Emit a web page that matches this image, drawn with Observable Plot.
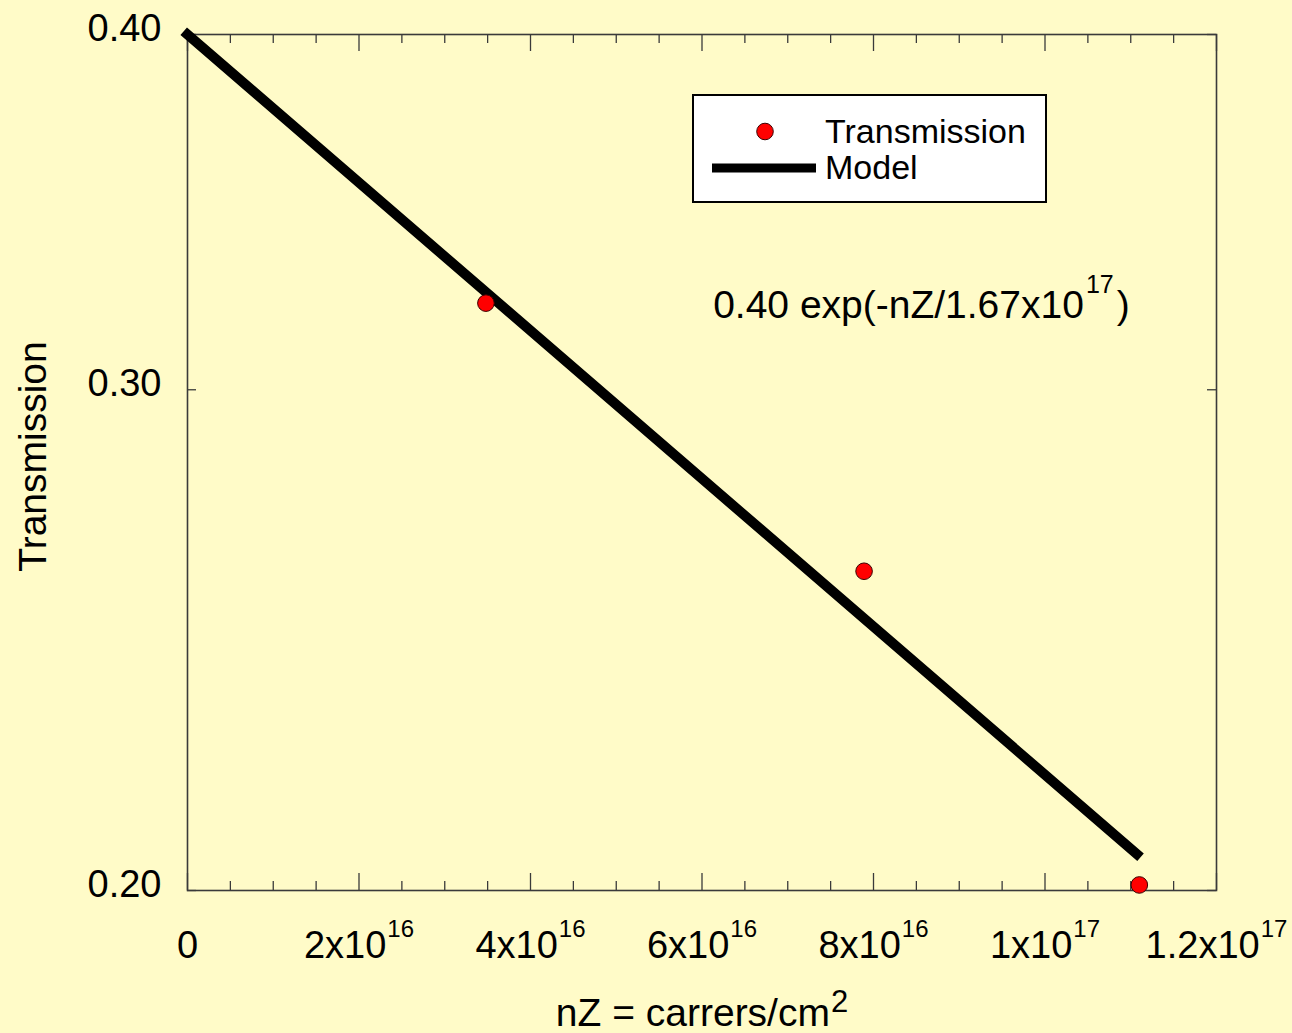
<!DOCTYPE html>
<html><head><meta charset="utf-8">
<script src="https://cdn.jsdelivr.net/npm/d3@7"></script>
<script src="https://cdn.jsdelivr.net/npm/@observablehq/plot@0.6"></script>
<style>
html,body{margin:0;padding:0;background:#fffbc8;}
#chart{width:1292px;height:1033px;}
</style></head><body><div id="chart"></div>
<script>
// ---- data ----
const nZ = [3.48e16, 7.89e16, 1.110e17];
const transmission = [0.3218, 0.2590, 0.2009];
const modelNZ = [0, 1.107e17];
const modelT = [0.400, 0.2060];
const seriesNames = ["Transmission", "Model"];
const xTicks = [0, 2e16, 4e16, 6e16, 8e16, 1e17, 1.2e17];
const xTickLabels = ["0", "2x10^{16}", "4x10^{16}", "6x10^{16}", "8x10^{16}", "1x10^{17}", "1.2x10^{17}"];
const xMinorTicks = [5e15, 1e16, 1.5e16, 2.5e16, 3e16, 3.5e16, 4.5e16, 5e16, 5.5e16, 6.5e16, 7e16, 7.5e16, 8.5e16, 9e16, 9.5e16, 1.05e17, 1.1e17, 1.15e17];
const yTicks = [0.2, 0.3, 0.4];
const yTickLabels = ["0.20", "0.30", "0.40"];
const xLabel = "nZ = carrers/cm^{2}";
const yLabel = "Transmission";
const formulaLabel = "0.40 exp(-nZ/1.67x10^{17})";
const formulaAt = [6.13e16, 0.3179];

// ---- build ----
const points = nZ.map((x, i) => ({x, y: transmission[i]}));
const model = modelNZ.map((x, i) => ({x, y: modelT[i]}));

const W = 1292, H = 1033, mL = 187, mR = 76, mT = 34, mB = 143;
const innerW = W - mL - mR, innerH = H - mT - mB;
const FONT = "'Liberation Sans', Arial, Helvetica, sans-serif";
const BG = "#fffbc8";
const AX = "#3a3a3a";

const plot = Plot.plot({
  width: W, height: H,
  marginLeft: mL, marginRight: mR, marginTop: mT, marginBottom: mB,
  style: {background: BG, fontFamily: FONT, color: "#000", overflow: "visible"},
  x: {type: "linear", domain: [0, 1.2e17]},
  y: {type: "log", domain: [0.2, 0.4]},
  marks: [
    Plot.axisX(xTicks, {tickSize: 0, tickPadding: 41, fontSize: 38, fill: "#000",
      tickFormat: d => xTickLabels[xTicks.indexOf(d)], label: null}),
    Plot.axisY(yTicks, {tickSize: 0, tickPadding: 26, fontSize: 38, fill: "#000", dy: -6,
      tickFormat: d => yTickLabels[yTicks.indexOf(d)], label: null}),
    // inward ticks on all four sides
    Plot.tickX(xTicks, {x: d => d, stroke: AX, strokeWidth: 1.3, insetTop: innerH - 17}),
    Plot.tickX(xTicks, {x: d => d, stroke: AX, strokeWidth: 1.3, insetBottom: innerH - 17}),
    Plot.tickX(xMinorTicks, {x: d => d, stroke: AX, strokeWidth: 1.3, insetTop: innerH - 9}),
    Plot.tickX(xMinorTicks, {x: d => d, stroke: AX, strokeWidth: 1.3, insetBottom: innerH - 9}),
    Plot.tickY(yTicks, {y: d => d, stroke: AX, strokeWidth: 1.3, insetRight: innerW - 9}),
    Plot.tickY(yTicks, {y: d => d, stroke: AX, strokeWidth: 1.3, insetLeft: innerW - 9}),
    Plot.frame({stroke: AX, strokeWidth: 1.6}),
    // model and data
    Plot.line(model, {x: "x", y: "y", stroke: "#000", strokeWidth: 10, strokeLinecap: "square"}),
    Plot.dot(points, {x: "x", y: "y", r: 8.3, fill: "#ff0000", stroke: "#3a0000", strokeWidth: 1}),
    // annotation and axis titles
    Plot.text([formulaLabel], {x: () => formulaAt[0], y: () => formulaAt[1], text: d => d,
      textAnchor: "start", lineAnchor: "bottom", fontSize: 39, fill: "#000"}),
    Plot.text([xLabel], {frameAnchor: "bottom", text: d => d, textAnchor: "middle", lineAnchor: "bottom",
      dy: 135, fontSize: 39, fill: "#000"}),
    Plot.text([yLabel], {frameAnchor: "left", text: d => d, rotate: -90, textAnchor: "middle", lineAnchor: "bottom",
      dx: -142, dy: -6, fontSize: 39, fill: "#000"})
  ]
});

// superscripts: "base^{exp}rest"
d3.select(plot).selectAll("text").each(function () {
  const s = this.textContent;
  const m = /^(.*)\^\{(.*?)\}(.*)$/.exec(s);
  if (!m) return;
  let supSize = 24, rise = 21, gap = 1;
  if (s === xLabel) { supSize = 31; rise = 14; gap = 1; }
  if (s === formulaLabel) { supSize = 25; rise = 25; gap = 2; }
  const t = d3.select(this);
  t.text(null);
  t.append("tspan").text(m[1]);
  t.append("tspan").attr("dy", -rise).attr("dx", gap).attr("font-size", supSize).text(m[2]);
  if (m[3]) t.append("tspan").attr("dy", rise).attr("dx", 3).attr("font-size", 39).text(m[3]);
});

// legend box inside the plot area
const svg = d3.select(plot);
const lg = svg.append("g").attr("font-family", FONT).attr("font-size", 34)
  .attr("text-anchor", "start").attr("fill", "#000");
lg.append("rect").attr("x", 693).attr("y", 95).attr("width", 353).attr("height", 107)
  .attr("fill", "#ffffff").attr("stroke", "#000").attr("stroke-width", 2);
lg.append("circle").attr("cx", 765).attr("cy", 131.5).attr("r", 8.3)
  .attr("fill", "#ff0000").attr("stroke", "#3a0000").attr("stroke-width", 1);
lg.append("line").attr("x1", 712).attr("x2", 816).attr("y1", 168).attr("y2", 168)
  .attr("stroke", "#000").attr("stroke-width", 9);
lg.append("text").attr("x", 825).attr("y", 143).text(seriesNames[0]);
lg.append("text").attr("x", 825).attr("y", 179).text(seriesNames[1]);

document.getElementById("chart").appendChild(plot);
</script>
</body></html>
